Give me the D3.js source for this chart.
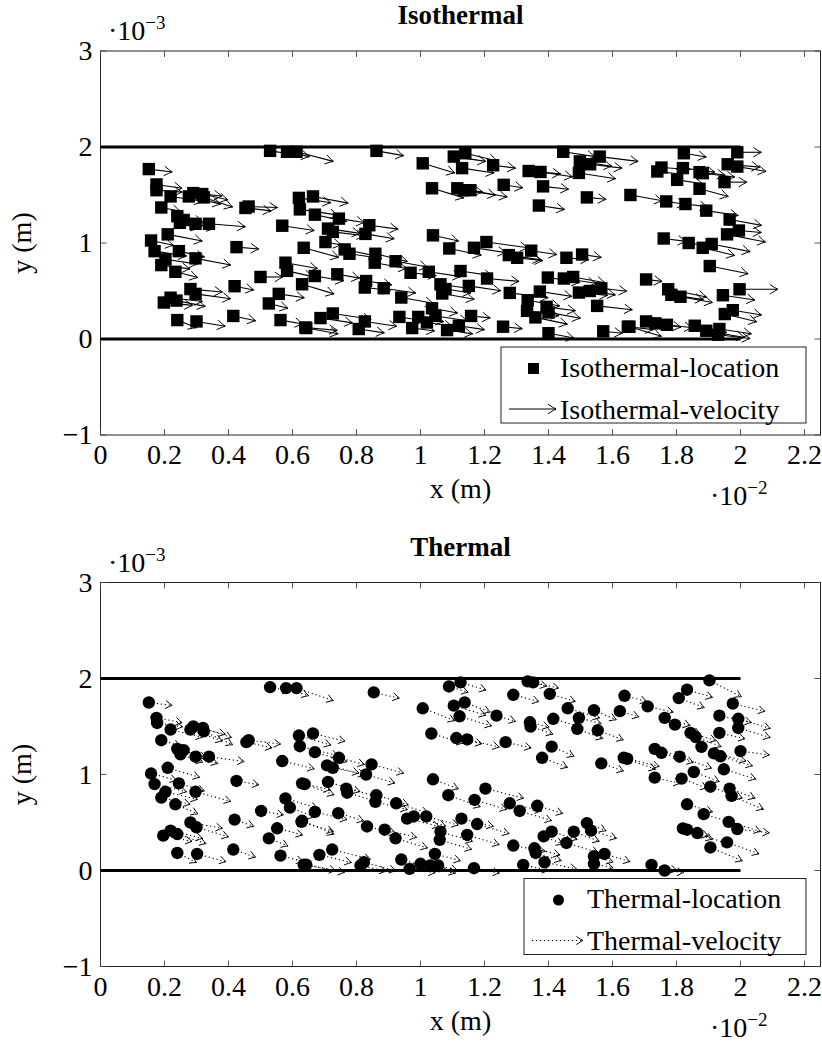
<!DOCTYPE html>
<html>
<head>
<meta charset="utf-8">
<script src="https://cdn.jsdelivr.net/npm/d3@7"></script>
<style>
  body { margin: 0; background: #fff; }
  svg text { font-family: "Liberation Serif", "DejaVu Serif", serif; fill: #000; }
</style>
</head>
<body>
<svg id="chart" width="822" height="1043"></svg>
<script>
// Axis ticks (x in 1e-2 m, y in 1e-3 m)
const xTicks = [0, 0.2, 0.4, 0.6, 0.8, 1, 1.2, 1.4, 1.6, 1.8, 2, 2.2];
const xTickLabels = ["0", "0.2", "0.4", "0.6", "0.8", "1", "1.2", "1.4", "1.6", "1.8", "2", "2.2"];
const yTicks = [-1, 0, 1, 2, 3];
const yTickLabels = ["\u22121", "0", "1", "2", "3"];

// Channel walls: y = 0 and y = 2 from x = 0 to x = 2
const wallLevels = [0, 2];
const wallSpan = [0, 2];

// Particle location and velocity vector: [x, y, u, v]
const isothermal = [
  [0.151,1.77,0.073,-0.03],[0.175,1.61,0.08,-0.04],[0.175,1.55,0.08,-0.02],[0.219,1.485,0.1,-0.05],
  [0.276,1.485,0.1,-0.08],[0.29,1.52,0.09,-0.03],[0.318,1.51,0.08,-0.06],[0.323,1.475,0.09,-0.1],
  [0.19,1.37,0.06,-0.04],[0.24,1.28,0.08,-0.06],[0.26,1.24,0.07,-0.05],[0.248,1.21,0.06,-0.06],
  [0.297,1.2,0.06,-0.05],[0.339,1.2,0.114,-0.03],[0.463,1.38,0.09,-0.01],[0.453,1.365,0.08,-0.03],
  [0.21,1.09,0.108,-0.07],[0.158,1.026,0.07,-0.05],[0.169,0.915,0.1,-0.05],[0.245,0.915,0.08,-0.06],
  [0.203,0.83,0.1,-0.05],[0.19,0.77,0.09,-0.04],[0.234,0.7,0.07,-0.06],[0.297,0.84,0.11,-0.07],
  [0.425,0.957,0.07,-0.02],[0.5,0.646,0.07,0],[0.419,0.55,0.06,-0.04],[0.281,0.52,0.1,-0.03],
  [0.297,0.47,0.11,-0.05],[0.198,0.38,0.09,-0.03],[0.219,0.43,0.1,-0.04],[0.2375,0.4,0.09,-0.06],
  [0.24,0.197,0.06,-0.08],[0.3,0.183,0.09,-0.05],[0.415,0.24,0.07,-0.05],[0.578,0.795,0.1,-0.06],
  [0.583,0.71,0.08,-0.06],[0.62,1.47,0.1,-0.05],[0.623,1.35,0.12,-0.06],[0.568,1.18,0.1,-0.05],
  [0.557,0.47,0.08,-0.04],[0.526,0.37,0.06,-0.05],[0.5625,0.197,0.07,-0.04],[0.53,1.96,0.06,-0.03],
  [0.583,1.95,0.07,-0.05],[0.6125,1.95,0.115,-0.1],[0.635,0.95,0.11,-0.1],[0.63,0.57,0.1,-0.1],
  [0.64,0.12,0.1,-0.03],[0.8625,1.96,0.085,-0.05],[1.007,1.83,0.1,-0.1],[1.104,1.9,0.1,-0.05],
  [1.13,1.78,0.1,-0.05],[1.14,1.935,0.1,-0.08],[1.036,1.57,0.1,-0.1],[1.115,1.57,0.08,-0.04],
  [1.135,1.55,0.1,-0.05],[1.156,1.55,0.115,-0.07],[0.664,1.485,0.11,-0.07],[0.67,1.295,0.1,-0.07],
  [0.745,1.254,0.08,-0.04],[0.711,1.15,0.1,-0.05],[0.726,1.116,0.1,-0.04],[0.84,1.185,0.09,-0.04],
  [0.828,1.095,0.09,-0.05],[0.703,1.01,0.05,-0.03],[0.763,0.933,0.1,-0.07],[0.778,0.888,0.1,-0.05],
  [0.859,0.888,0.1,-0.08],[0.857,0.795,0.1,-0.06],[0.922,0.81,0.1,-0.06],[0.969,0.69,0.08,-0.03],
  [1.026,0.7,0.1,-0.05],[1.039,1.08,0.08,-0.06],[1.09,0.943,0.1,-0.07],[1.125,0.708,0.1,-0.05],
  [0.67,0.656,0.09,-0.05],[0.74,0.674,0.07,-0.04],[0.83,0.604,0.08,-0.04],[0.826,0.536,0.08,-0.03],
  [0.885,0.529,0.1,-0.05],[0.94,0.432,0.1,-0.06],[1.0625,0.57,0.1,-0.05],[1.068,0.474,0.1,-0.06],
  [1.078,0.52,0.08,-0.04],[1.151,0.553,0.1,-0.05],[1.036,0.32,0.08,-0.05],[1.047,0.24,0.1,-0.05],
  [0.934,0.23,0.08,-0.04],[0.993,0.23,0.08,-0.05],[1.02,0.172,0.08,-0.04],[0.974,0.114,0.07,-0.03],
  [1.083,0.093,0.08,-0.04],[1.12,0.138,0.08,-0.04],[0.726,0.266,0.12,-0.06],[0.6875,0.218,0.1,-0.05],
  [0.643,0.114,0.1,-0.06],[0.826,0.183,0.1,-0.05],[0.807,0.104,0.08,-0.04],[1.227,1.81,0.07,-0.03],
  [1.338,1.75,0.1,-0.03],[1.375,1.74,0.1,-0.05],[1.446,1.95,0.1,-0.05],[1.498,1.85,0.1,-0.05],
  [1.53,1.82,0.1,-0.04],[1.56,1.9,0.12,-0.05],[1.495,1.73,0.115,-0.06],[1.383,1.59,0.08,-0.03],
  [1.26,1.606,0.06,-0.03],[1.37,1.39,0.08,-0.04],[1.52,1.475,0.06,-0.02],[1.656,1.5,0.1,-0.06],
  [1.206,1.01,0.13,-0.06],[1.167,0.95,0.1,-0.05],[1.276,0.874,0.1,-0.05],[1.302,0.846,0.08,-0.03],
  [1.346,0.92,0.08,-0.04],[1.456,0.846,0.07,-0.02],[1.505,0.88,0.06,-0.03],[1.208,0.63,0.1,-0.03],
  [1.279,0.48,0.12,-0.05],[1.398,0.64,0.1,-0.05],[1.448,0.63,0.1,-0.05],[1.477,0.646,0.1,-0.06],
  [1.373,0.494,0.1,-0.05],[1.335,0.404,0.1,-0.06],[1.495,0.484,0.09,-0.03],[1.529,0.5,0.08,-0.04],
  [1.565,0.528,0.08,-0.03],[1.552,0.345,0.11,-0.04],[1.333,0.293,0.1,-0.05],[1.394,0.335,0.09,-0.04],
  [1.4,0.277,0.1,-0.06],[1.359,0.225,0.1,-0.07],[1.158,0.24,0.06,-0.02],[1.258,0.128,0.06,-0.02],
  [1.4,0.06,0.08,-0.05],[1.571,0.08,0.06,-0.02],[1.648,0.128,0.08,-0.03],[1.823,1.935,0.07,-0.04],
  [1.99,1.945,0.075,0],[1.74,1.745,0.08,-0.03],[1.753,1.786,0.09,-0.02],[1.82,1.78,0.1,-0.04],
  [1.872,1.738,0.08,-0.03],[1.882,1.727,0.1,-0.04],[1.802,1.658,0.08,-0.04],[1.96,1.82,0.1,-0.03],
  [1.99,1.796,0.09,-0.05],[1.95,1.634,0.07,0],[1.872,1.565,0.09,-0.08],[1.768,1.433,0.06,-0.03],
  [1.828,1.406,0.07,-0.03],[1.893,1.337,0.1,-0.05],[1.966,1.244,0.1,-0.06],[1.995,1.13,0.07,-0.02],
  [1.958,1.09,0.12,-0.08],[1.76,1.047,0.07,-0.03],[1.838,1.0,0.08,-0.04],[1.882,0.95,0.1,-0.08],
  [1.91,0.99,0.12,-0.08],[1.904,0.76,0.12,-0.08],[1.705,0.62,0.05,-0.02],[1.774,0.518,0.12,-0.08],
  [1.784,0.46,0.1,-0.05],[1.8125,0.44,0.1,-0.06],[1.945,0.456,0.1,-0.05],[1.997,0.518,0.12,0],
  [1.976,0.3,0.09,-0.05],[1.951,0.26,0.1,-0.08],[1.653,0.128,0.1,-0.1],[1.705,0.183,0.07,-0.04],
  [1.734,0.163,0.08,-0.04],[1.77,0.148,0.08,-0.03],[1.857,0.138,0.1,-0.07],[1.893,0.086,0.12,-0.07],
  [1.934,0.104,0.1,-0.05],[1.93,0.045,0.1,-0.04]
];

const thermal = [
  [0.151,1.75,0.073,-0.03],[0.175,1.59,0.08,-0.05],[0.177,1.537,0.08,-0.04],[0.219,1.468,0.1,-0.08],
  [0.281,1.468,0.1,-0.12],[0.29,1.5,0.1,-0.08],[0.32,1.485,0.09,-0.1],[0.323,1.45,0.09,-0.14],
  [0.19,1.357,0.06,-0.06],[0.24,1.267,0.08,-0.08],[0.26,1.254,0.07,-0.08],[0.25,1.21,0.07,-0.08],
  [0.297,1.185,0.07,-0.07],[0.339,1.185,0.11,-0.05],[0.463,1.357,0.1,-0.04],[0.456,1.337,0.08,-0.06],
  [0.21,1.07,0.1,-0.1],[0.158,1.01,0.08,-0.07],[0.169,0.9,0.1,-0.08],[0.245,0.908,0.08,-0.08],
  [0.203,0.82,0.1,-0.08],[0.19,0.76,0.09,-0.07],[0.234,0.69,0.07,-0.1],[0.297,0.82,0.11,-0.1],
  [0.425,0.933,0.07,-0.04],[0.502,0.62,0.07,-0.04],[0.419,0.53,0.06,-0.07],[0.281,0.5,0.1,-0.06],
  [0.3,0.45,0.1,-0.1],[0.196,0.363,0.09,-0.06],[0.219,0.415,0.1,-0.08],[0.24,0.38,0.09,-0.1],
  [0.24,0.183,0.06,-0.1],[0.302,0.172,0.09,-0.08],[0.415,0.218,0.07,-0.08],[0.578,0.75,0.1,-0.1],
  [0.592,0.656,0.08,-0.1],[0.62,1.406,0.1,-0.1],[0.623,1.295,0.12,-0.1],[0.568,1.14,0.1,-0.08],
  [0.63,0.908,0.1,-0.12],[0.63,0.518,0.1,-0.14],[0.552,0.44,0.08,-0.07],[0.526,0.335,0.06,-0.08],
  [0.5625,0.155,0.07,-0.06],[0.53,1.91,0.06,-0.04],[0.58,1.9,0.07,-0.08],[0.6125,1.9,0.115,-0.13],
  [0.635,0.06,0.1,-0.06],[0.854,1.855,0.08,-0.06],[1.007,1.69,0.1,-0.13],[1.089,1.917,0.06,-0.06],
  [1.125,1.96,0.08,-0.08],[1.104,1.717,0.1,-0.1],[1.138,1.75,0.08,-0.1],[1.122,1.606,0.1,-0.1],
  [1.034,1.427,0.1,-0.1],[1.112,1.38,0.08,-0.06],[1.146,1.365,0.1,-0.08],[0.664,1.427,0.1,-0.08],
  [0.67,1.233,0.1,-0.1],[0.745,1.174,0.08,-0.07],[0.708,1.095,0.1,-0.08],[0.726,1.07,0.1,-0.07],
  [0.847,1.105,0.1,-0.09],[0.83,1.0,0.09,-0.09],[0.638,0.9,0.08,-0.06],[0.711,0.922,0.1,-0.1],
  [0.768,0.853,0.1,-0.08],[0.771,0.81,0.1,-0.1],[0.862,0.784,0.1,-0.1],[0.859,0.715,0.1,-0.08],
  [0.924,0.7,0.1,-0.1],[0.958,0.54,0.1,-0.08],[0.979,0.563,0.1,-0.1],[1.018,0.563,0.1,-0.09],
  [1.039,0.95,0.08,-0.1],[1.087,0.784,0.1,-0.12],[1.128,0.54,0.1,-0.08],[1.146,0.37,0.1,-0.1],
  [0.67,0.61,0.1,-0.08],[0.743,0.597,0.08,-0.08],[0.628,0.507,0.1,-0.1],[0.833,0.459,0.09,-0.07],
  [0.888,0.425,0.1,-0.08],[0.922,0.335,0.1,-0.1],[1.0625,0.404,0.1,-0.1],[1.06,0.32,0.1,-0.1],
  [1.045,0.172,0.08,-0.07],[0.94,0.114,0.08,-0.08],[1.0,0.07,0.08,-0.06],[1.03,0.052,0.08,-0.08],
  [1.055,0.052,0.06,-0.05],[0.966,0.017,0.08,-0.04],[0.724,0.218,0.12,-0.1],[0.684,0.163,0.1,-0.08],
  [0.643,0.06,0.12,-0.08],[0.823,0.086,0.1,-0.09],[0.8125,0.052,0.08,-0.06],[1.352,1.96,0.08,-0.06],
  [1.335,1.97,0.06,-0.05],[1.29,1.83,0.08,-0.07],[1.404,1.84,0.08,-0.08],[1.6375,1.82,0.07,-0.06],
  [1.46,1.69,0.1,-0.1],[1.2375,1.613,0.06,-0.06],[1.342,1.544,0.06,-0.05],[1.344,1.5,0.07,-0.08],
  [1.415,1.58,0.08,-0.08],[1.495,1.59,0.07,-0.06],[1.49,1.475,0.08,-0.1],[1.542,1.67,0.07,-0.1],
  [1.554,1.46,0.08,-0.1],[1.623,1.66,0.06,-0.06],[1.266,1.337,0.08,-0.06],[1.41,1.29,0.07,-0.1],
  [1.38,1.174,0.08,-0.1],[1.565,1.116,0.07,-0.08],[1.635,1.174,0.1,-0.12],[1.203,0.853,0.12,-0.1],
  [1.169,0.736,0.1,-0.1],[1.279,0.7,0.1,-0.08],[1.31,0.62,0.1,-0.1],[1.365,0.674,0.08,-0.08],
  [1.177,0.484,0.1,-0.1],[1.385,0.355,0.06,-0.08],[1.41,0.404,0.08,-0.08],[1.479,0.404,0.08,-0.1],
  [1.52,0.494,0.06,-0.08],[1.533,0.415,0.08,-0.08],[1.456,0.287,0.1,-0.1],[1.29,0.26,0.1,-0.06],
  [1.356,0.231,0.08,-0.07],[1.36,0.183,0.08,-0.08],[1.542,0.148,0.06,-0.06],[1.575,0.172,0.08,-0.08],
  [1.542,0.069,0.06,-0.04],[1.321,0.059,0.08,-0.06],[1.3875,0.086,0.1,-0.07],[1.167,0.024,0.08,-0.05],
  [1.903,1.98,0.1,-0.17],[1.833,1.883,0.08,-0.08],[1.807,1.796,0.08,-0.1],[1.71,1.71,0.08,-0.06],
  [1.976,1.738,0.1,-0.08],[1.763,1.59,0.08,-0.08],[1.795,1.52,0.08,-0.1],[1.934,1.613,0.1,-0.07],
  [1.993,1.58,0.1,-0.1],[1.993,1.485,0.1,-0.1],[1.844,1.433,0.08,-0.08],[1.86,1.39,0.08,-0.1],
  [1.934,1.433,0.08,-0.06],[1.878,1.288,0.08,-0.1],[1.732,1.267,0.08,-0.08],[1.753,1.226,0.1,-0.1],
  [1.917,1.22,0.1,-0.08],[1.9375,1.19,0.1,-0.1],[2.0,1.244,0.09,-0.04],[1.81,1.185,0.1,-0.12],
  [1.646,1.164,0.1,-0.08],[1.854,1.026,0.08,-0.1],[1.948,1.054,0.1,-0.1],[1.732,0.967,0.08,-0.06],
  [1.816,0.957,0.08,-0.1],[1.906,0.873,0.1,-0.12],[1.966,0.853,0.08,-0.1],[1.972,0.777,0.1,-0.14],
  [1.833,0.69,0.08,-0.08],[1.885,0.587,0.1,-0.1],[1.963,0.507,0.1,-0.1],[1.99,0.432,0.1,-0.04],
  [1.82,0.438,0.08,-0.08],[1.833,0.425,0.08,-0.1],[1.865,0.39,0.1,-0.12],[1.958,0.293,0.1,-0.12],
  [1.906,0.24,0.1,-0.14],[1.722,0.059,0.08,-0.06],[1.763,0.0,0.06,-0.02]
];

const panels = [
  { title: "Isothermal", data: isothermal, marker: "square", dotted: false,
    locLabel: "Isothermal-location", velLabel: "Isothermal-velocity", top: 0, legendLeft: 501 },
  { title: "Thermal", data: thermal, marker: "circle", dotted: true,
    locLabel: "Thermal-location", velLabel: "Thermal-velocity", top: 531.5, legendLeft: 524 }
];

const svg = d3.select("#chart");
const FS = 28;
const frameLeft = 100.5, frameRight = 820.5;

function arrowHead(g, x1, y1, x2, y2, len, half) {
  const a = Math.atan2(y2 - y1, x2 - x1);
  const c = Math.cos(a), s = Math.sin(a);
  const bx = x2 - len * c, by = y2 - len * s;
  const nx = -s, ny = c;
  const mx = x2 - 0.35 * len * c, my = y2 - 0.35 * len * s;
  g.append("path")
    .attr("d", `M${bx + half * nx},${by + half * ny} Q${mx + 0.25 * half * nx},${my + 0.25 * half * ny} ${x2},${y2} Q${mx - 0.25 * half * nx},${my - 0.25 * half * ny} ${bx - half * nx},${by - half * ny}`)
    .attr("fill", "none").attr("stroke", "#000").attr("stroke-width", 1);
}

function drawArrow(g, x1, y1, x2, y2, dotted) {
  g.append("line")
    .attr("x1", x1).attr("y1", y1).attr("x2", x2).attr("y2", y2)
    .attr("stroke", "#000").attr("stroke-width", dotted ? 1.1 : 1.1)
    .attr("stroke-dasharray", dotted ? "1.2 2.8" : null);
  arrowHead(g, x1, y1, x2, y2, dotted ? 6.5 : 8, dotted ? 4 : 4.8);
}

function drawMarker(g, cx, cy, kind, size) {
  const h = size / 2;
  if (kind === "square") {
    g.append("rect").attr("x", cx - h).attr("y", cy - h)
      .attr("width", size).attr("height", size).attr("fill", "#000");
  } else {
    g.append("circle").attr("cx", cx).attr("cy", cy).attr("r", h).attr("fill", "#000");
  }
}

panels.forEach(p => {
  const g = svg.append("g");
  const x = d3.scaleLinear().domain([0, 2.25]).range([frameLeft, frameRight]);
  const y = d3.scaleLinear().domain([-1, 3]).range([p.top + 435, p.top + 51]);
  const [y0, y1] = y.range();

  // frame
  g.append("rect").attr("x", frameLeft).attr("y", y1)
    .attr("width", frameRight - frameLeft).attr("height", y0 - y1)
    .attr("fill", "none").attr("stroke", "#222").attr("stroke-width", 1);

  // ticks on all four sides, pointing inward
  const tl = 6;
  xTicks.forEach(t => {
    g.append("line").attr("x1", x(t)).attr("x2", x(t)).attr("y1", y0).attr("y2", y0 - tl)
      .attr("stroke", "#444").attr("stroke-width", 0.9);
    g.append("line").attr("x1", x(t)).attr("x2", x(t)).attr("y1", y1).attr("y2", y1 + tl)
      .attr("stroke", "#444").attr("stroke-width", 0.9);
  });
  yTicks.forEach(t => {
    g.append("line").attr("x1", frameLeft).attr("x2", frameLeft + tl).attr("y1", y(t)).attr("y2", y(t))
      .attr("stroke", "#444").attr("stroke-width", 0.9);
    g.append("line").attr("x1", frameRight).attr("x2", frameRight - tl).attr("y1", y(t)).attr("y2", y(t))
      .attr("stroke", "#444").attr("stroke-width", 0.9);
  });

  // tick labels
  xTicks.forEach((t, i) => {
    g.append("text").attr("x", x(t)).attr("y", y0 + 29)
      .attr("text-anchor", "middle").attr("font-size", FS).text(xTickLabels[i]);
  });
  yTicks.forEach((t, i) => {
    g.append("text").attr("x", frameLeft - 8).attr("y", y(t) + 9)
      .attr("text-anchor", "end").attr("font-size", FS).text(yTickLabels[i]);
  });

  // scale factors
  const ey = g.append("text").attr("x", 108).attr("y", y1 - 11).attr("font-size", FS);
  ey.append("tspan").text("\u00b710");
  ey.append("tspan").attr("dy", -11).attr("font-size", 19).text("\u22123");
  const ex = g.append("text").attr("x", 710).attr("y", y0 + 70).attr("font-size", FS);
  ex.append("tspan").text("\u00b710");
  ex.append("tspan").attr("dy", -11).attr("font-size", 19).text("\u22122");

  // title and axis labels
  g.append("text").attr("x", (frameLeft + frameRight) / 2).attr("y", y1 - 27)
    .attr("text-anchor", "middle").attr("font-size", 27).attr("font-weight", "bold").text(p.title);
  g.append("text").attr("x", (frameLeft + frameRight) / 2).attr("y", y0 + 63)
    .attr("text-anchor", "middle").attr("font-size", FS).text("x (m)");
  g.append("text").attr("transform", `translate(31,${(y0 + y1) / 2}) rotate(-90)`)
    .attr("text-anchor", "middle").attr("font-size", FS).text("y (m)");

  // channel walls
  wallLevels.forEach(w => {
    g.append("line").attr("x1", x(wallSpan[0])).attr("x2", x(wallSpan[1]))
      .attr("y1", y(w)).attr("y2", y(w)).attr("stroke", "#000").attr("stroke-width", 3);
  });

  // velocity vectors
  const va = g.append("g");
  p.data.forEach(([px, py, u, v]) => {
    drawArrow(va, x(px), y(py), x(px + u), y(py + v), p.dotted);
  });
  // particle locations
  const ma = g.append("g");
  p.data.forEach(([px, py]) => drawMarker(ma, x(px), y(py), p.marker, 12.4));

  // legend (south-east corner)
  const lr = 806, lb = y0 - 12, lh = 76;
  const lt = lb - lh;
  const lg = g.append("g");
  lg.append("rect").attr("x", p.legendLeft).attr("y", lt)
    .attr("width", lr - p.legendLeft).attr("height", lh)
    .attr("fill", "#fff").attr("stroke", "#222").attr("stroke-width", 1);
  const r1 = lt + 20, r2 = lt + 62;
  const textX = p.marker === "square" ? 560 : 587;
  const sampleL = p.legendLeft + 8, sampleR = textX - 4;
  drawMarker(lg, (sampleL + sampleR) / 2 + 1, r1 + 1.5, p.marker, 11);
  drawArrow(lg, sampleL, r2, sampleR, r2, p.dotted);
  lg.append("text").attr("x", textX).attr("y", r1 + 9.5).attr("font-size", FS).text(p.locLabel);
  lg.append("text").attr("x", textX).attr("y", r2 + 9.5).attr("font-size", FS).text(p.velLabel);
});
</script>
</body>
</html>
